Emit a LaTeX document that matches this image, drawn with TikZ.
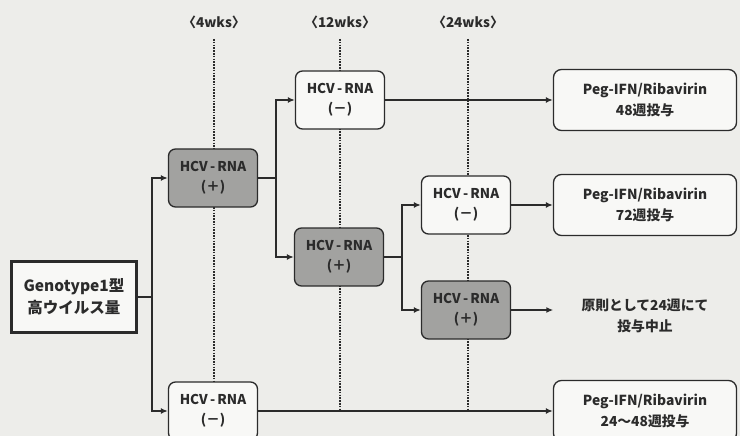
\documentclass[tikz,border=0pt]{standalone}
\usepackage{fontspec}
\setmainfont{Noto Sans CJK JP}
\usetikzlibrary{arrows.meta,positioning}
\definecolor{paper}{HTML}{EDEDEA}
\definecolor{boxwhite}{HTML}{F8F8F6}
\definecolor{ink}{HTML}{2B2B2B}
\definecolor{posgray}{HTML}{A2A2A0}

\begin{document}
\begin{tikzpicture}[x=1pt,y=-1pt,>={Latex[length=7pt,width=6pt]},
  line/.style={draw=ink,line width=1.8pt},
  dotline/.style={draw=ink,line width=2.2pt,dash pattern=on 1.6pt off 1.2pt},
  hcv/.style={draw=ink,line width=1.3pt,rounded corners=7pt,align=center,text=ink,
    font=\fontsize{13.5}{20}\selectfont\bfseries,minimum width=89pt,minimum height=58pt,inner sep=0pt},
  negbox/.style={hcv,fill=boxwhite},
  posbox/.style={hcv,fill=posgray},
  result/.style={draw=ink,line width=1.3pt,rounded corners=8pt,align=center,text=ink,fill=boxwhite,
    font=\fontsize{13.8}{21}\selectfont\bfseries,minimum width=183pt,minimum height=61pt,inner sep=0pt},
  week/.style={text=ink,font=\fontsize{13.5}{15}\selectfont\bfseries}]

  % background (fixes the picture size)
  \path[fill=paper] (0,0) rectangle (740,436);
  \clip (0,0) rectangle (740,436);

  % time points
  \node[week] (w4)  at (214,22) {〈4wks〉};
  \node[week] (w12) at (340,22) {〈12wks〉};
  \node[week] (w24) at (468,22) {〈24wks〉};

  % dotted week lines, drawn first so the boxes cover them
  \coordinate (base) at (0,411);
  \foreach \w in {w4,w12,w24}
    \draw[dotline] ([yshift=-7pt]\w.south) -- (\w.south |- base);

  % start box
  \node[draw=ink,line width=2.6pt,fill=boxwhite,align=center,text=ink,font=\fontsize{15.5}{22}\selectfont\bfseries,
        minimum width=125pt,minimum height=71pt,inner sep=0pt] (geno) at (74,297) {Genotype1型\\高ウイルス量};

  % HCV-RNA checks
  \node[posbox] (p4)  at (213,178) {HCV\,-\,RNA\\(＋)};
  \node[negbox] (n4)  at (213,411) {HCV\,-\,RNA\\(－)};
  \node[negbox] (n12) at (340,100) {HCV\,-\,RNA\\(－)};
  \node[posbox] (p12) at (339,257) {HCV\,-\,RNA\\(＋)};
  \node[negbox] (n24) at (466,205) {HCV\,-\,RNA\\(－)};
  \node[posbox] (p24) at (466,310) {HCV\,-\,RNA\\(＋)};

  % treatment
  \node[result] (r48) at (645,100) {Peg-IFN/Ribavirin\\48週投与};
  \node[result] (r72) at (645,205) {Peg-IFN/Ribavirin\\72週投与};
  \node[align=center,text=ink,font=\fontsize{13.8}{21}\selectfont\bfseries,minimum width=183pt,inner sep=0pt]
        (stop) at (645,316) {原則として24週にて\\投与中止};
  \node[result] (r2448) at (645,411) {Peg-IFN/Ribavirin\\24〜48週投与};

  % junctions
  \coordinate (j1) at (152,297);
  \coordinate (j2) at (276,178);
  \coordinate (j3) at (402,257);

  % connectors
  \draw[line] (geno) -- (j1);
  \draw[line,->] (j1) |- (p4.west);
  \draw[line,->] (j1) |- (n4.west);
  \draw[line] (p4.east) -- (j2);
  \draw[line,->] (j2) |- (n12.west);
  \draw[line,->] (j2) |- (p12.west);
  \draw[line] (p12.east) -- (j3);
  \draw[line,->] (j3) |- (n24.west);
  \draw[line,->] (j3) |- (p24.west);
  \draw[line,->] (n12.east) -- (r48.west);
  \draw[line,->] (n24.east) -- (r72.west);
  \draw[line,->] (p24.east) -- (p24.east -| stop.west);
  \draw[line,->] (n4.east) -- (r2448.west);

\end{tikzpicture}
\end{document}
